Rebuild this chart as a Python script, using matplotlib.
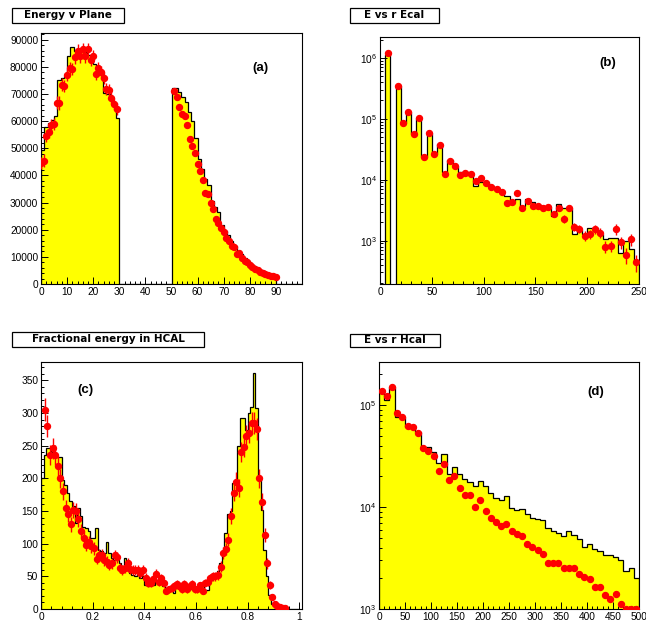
import numpy as np
import matplotlib
matplotlib.use("Agg")
import matplotlib.pyplot as plt
from matplotlib.patches import Rectangle
from matplotlib.ticker import MultipleLocator, LogLocator, NullFormatter, FuncFormatter

plt.rcParams["font.family"] = ["Liberation Sans", "DejaVu Sans"]

# (a) Energy v Plane  -- histogram in bins of 1.25, points per plane
a_edges = np.linspace(0, 100, 81)
a_hist = [49500, 58000, 59500, 60500, 62000, 75000, 76000, 76500, 84000, 87500,
          86000, 85500, 86000, 85500, 84500, 84000, 81000, 80500, 78500, 70500,
          70000, 68000, 66000, 61000,
          0, 0, 0, 0, 0, 0, 0, 0, 0, 0, 0, 0, 0, 0, 0, 0,
          72100, 72100, 70700, 68900, 67000, 63300, 60200, 53700, 46000, 42300,
          38600, 36400, 30600, 28500, 26400, 21700, 19500, 17900, 15800, 14000,
          12100, 10900, 9500, 8400, 7300, 6500, 5700, 5000, 4300, 3800, 3300, 2800,
          0, 0, 0, 0, 0, 0, 0, 0]
a_planes = list(range(0, 30)) + list(range(51, 91))
a_points = [44500, 45500, 54500, 56000, 58500, 59000, 66800, 66700, 73500, 73000,
            77000, 79500, 79300, 83500, 86000, 84000, 86500, 84000, 86500, 82500,
            84000, 77500, 79500, 78000, 76000, 71800, 71500, 68500, 66500, 64500,
            71000, 69000, 65200, 62800, 62000, 58500, 53500, 50800, 48300, 44300,
            41500, 38200, 33600, 33000, 29800, 27800, 24000, 22300, 20700, 19200,
            17000, 16000, 14000, 13700, 11200, 11500, 9500, 8600, 8000, 6900,
            6300, 5400, 5100, 4400, 4100, 3700, 3400, 3100, 2800, 2400]
a_errors = [2300, 2300, 2200, 2200, 2200, 2200, 2400, 2400, 2300, 2300,
            2300, 2300, 2300, 2400, 2400, 2400, 2400, 2400, 2400, 2300,
            2300, 2300, 2300, 2300, 2200, 2200, 2200, 2200, 2200, 2100,
            900, 900, 850, 850, 850, 800, 800, 750, 750, 700,
            700, 650, 650, 600, 600, 550, 550, 500, 500, 450,
            450, 450, 400, 400, 400, 350, 350, 350, 300, 300,
            300, 300, 250, 250, 250, 250, 200, 200, 200, 200]

# (b) E vs r Ecal
b_edges = np.arange(0, 251, 5)
b_hist = [0, 1.13e6, 0, 3.4e5, 8.5e4, 1.3e5, 5.7e4, 1.03e5, 2.4e4, 5.9e4,
          2.6e4, 3.8e4, 1.35e4, 2.1e4, 1.7e4, 1.35e4, 1.35e4, 1.25e4, 8.0e3, 9.3e3,
          9.0e3, 7.8e3, 7.2e3, 6.2e3, 5.3e3, 4.5e3, 4.8e3, 3.7e3, 4.9e3, 4.3e3,
          3.9e3, 3.7e3, 3.5e3, 2.5e3, 4.0e3, 3.4e3, 3.4e3, 1.3e3, 1.5e3, 1.3e3,
          1.6e3, 1.6e3, 1.3e3, 1.05e3, 1.1e3, 1.1e3, 620, 1.0e3, 720, 450]
b_points = [0, 1.2e6, 0, 3.5e5, 8.5e4, 1.3e5, 5.7e4, 1.03e5, 2.35e4, 5.8e4,
            2.6e4, 3.7e4, 1.25e4, 2.05e4, 1.67e4, 1.2e4, 1.3e4, 1.23e4, 9.5e3, 1.05e4,
            8.8e3, 7.7e3, 7.1e3, 6.2e3, 4.1e3, 4.3e3, 6.0e3, 3.4e3, 4.5e3, 3.7e3,
            3.7e3, 3.4e3, 3.5e3, 2.75e3, 3.4e3, 2.3e3, 3.4e3, 1.7e3, 1.55e3, 1.2e3,
            1.28e3, 1.55e3, 1.35e3, 800, 820, 1.55e3, 950, 580, 1.05e3, 440]
b_relerr = [0, .03, 0, .03, .03, .03, .03, .03, .04, .03,
            .04, .04, .05, .05, .05, .05, .05, .05, .06, .06,
            .06, .06, .07, .07, .08, .08, .08, .09, .08, .09,
            .09, .09, .09, .10, .10, .15, .10, .15, .15, .18,
            .18, .18, .18, .22, .22, .20, .22, .30, .22, .30]

# (c) Fractional energy in HCAL
c_edges = np.linspace(0, 1, 101)
c_hist = [200, 236, 246, 246, 241, 233, 233, 233, 198, 190,
          177, 165, 157, 131, 154, 142, 126, 124, 119, 108,
          108, 124, 91, 88, 86, 103, 86, 78, 75, 75,
          70, 65, 78, 60, 55, 52, 50, 63, 48, 50,
          37, 35, 40, 37, 45, 40, 45, 35, 27, 30,
          35, 24, 35, 32, 30, 32, 35, 30, 31, 29,
          32, 29, 35, 27, 29, 45, 50, 52, 58, 70,
          86, 116, 145, 150, 193, 193, 250, 293, 293, 274,
          300, 309, 361, 307, 200, 152, 91, 50, 22, 7,
          3, 1, 0, 0, 0, 0, 0, 0, 0, 0]
c_points = [0, 305, 280, 236, 246, 236, 219, 200, 180, 154,
            145, 130, 152, 150, 138, 119, 109, 98, 102, 96,
            93, 77, 83, 83, 75, 72, 68, 70, 82, 79,
            63, 60, 63, 70, 61, 60, 59, 59, 55, 59,
            48, 40, 40, 46, 54, 42, 47, 40, 28, 30,
            32, 35, 38, 35, 30, 38, 30, 35, 38, 30,
            30, 36, 28, 40, 42, 47, 50, 50, 52, 65,
            85, 92, 106, 142, 178, 195, 185, 240, 248, 265,
            270, 285, 285, 276, 200, 164, 113, 70, 37, 19,
            8, 5, 3, 2, 1, 0, 0, 0, 0, 0]

# (d) E vs r Hcal
d_edges = np.arange(0, 501, 10)
d_hist = [1.35e5, 1.12e5, 1.5e5, 7.7e4, 7.7e4, 6.1e4, 6.1e4, 5.5e4, 3.85e4, 3.85e4,
          3.5e4, 2.7e4, 3.35e4, 2.1e4, 2.5e4, 2.1e4, 1.9e4, 1.77e4, 1.6e4, 1.8e4,
          1.6e4, 1.37e4, 1.23e4, 1.18e4, 1.28e4, 9.7e3, 9.3e3, 9.5e3, 8.6e3, 7.9e3,
          7.7e3, 7.5e3, 6.3e3, 5.8e3, 5.6e3, 5.2e3, 5.8e3, 5.3e3, 4.9e3, 4.1e3,
          4.3e3, 3.9e3, 3.7e3, 3.4e3, 3.35e3, 3.25e3, 3.05e3, 2.35e3, 2.5e3, 2.0e3]
d_points = [1.38e5, 1.22e5, 1.49e5, 8.3e4, 7.7e4, 6.2e4, 6.05e4, 5.3e4, 3.77e4, 3.55e4,
            3.17e4, 2.28e4, 2.65e4, 1.85e4, 2.02e4, 1.55e4, 1.3e4, 1.3e4, 1.0e4, 1.18e4,
            9.2e3, 7.8e3, 7.2e3, 6.5e3, 6.8e3, 5.8e3, 5.4e3, 5.2e3, 4.3e3, 4.1e3,
            3.75e3, 3.5e3, 2.8e3, 2.85e3, 2.8e3, 2.55e3, 2.55e3, 2.55e3, 2.2e3, 2.05e3,
            1.98e3, 1.65e3, 1.63e3, 1.38e3, 1.25e3, 1.4e3, 1.12e3, 1.0e3, 1.0e3, 0.99e3]
d_relerr = [.01, .01, .01, .01, .01, .01, .01, .01, .015, .015,
            .015, .015, .015, .02, .02, .02, .02, .02, .02, .02,
            .02, .025, .025, .025, .025, .03, .03, .03, .03, .03,
            .035, .035, .04, .04, .04, .04, .04, .04, .045, .045,
            .05, .05, .05, .06, .06, .06, .07, .07, .07, .08]

titles = ["Energy v Plane", "E vs r Ecal", "Fractional energy in HCAL", "E vs r Hcal"]
tags = ["(a)", "(b)", "(c)", "(d)"]

W, H = 646, 624
fig = plt.figure(figsize=(W / 100, H / 100), dpi=100)
fig.patch.set_facecolor("white")


def px_axes(left, top, right, bottom):
    return fig.add_axes([left / W, 1 - bottom / H, (right - left) / W, (bottom - top) / H])


def title_box(text, left, top, right, bottom):
    fig.add_artist(Rectangle((left / W, 1 - bottom / H), (right - left) / W, (bottom - top) / H,
                             transform=fig.transFigure, facecolor="white",
                             edgecolor="black", lw=0.9))
    fig.text((left + right) / 2 / W, 1 - (top + bottom) / 2 / H, text,
             ha="center", va="center", fontsize=7.5, fontweight="bold",
             family=["DejaVu Sans"])


def style(ax):
    for s in ax.spines.values():
        s.set_linewidth(0.8)
    ax.tick_params(which="both", direction="in", top=False, right=False,
                   width=0.7, labelsize=7.3, pad=2)
    ax.tick_params(which="major", length=5)
    ax.tick_params(which="minor", length=2.5)


def draw_hist(ax, edges, counts, base):
    vals = np.where(np.asarray(counts) > 0, counts, base)
    ax.stairs(vals, edges, baseline=base, fill=True, color="#ffff00", lw=0)
    ax.stairs(vals, edges, baseline=base, color="black", lw=0.9)


def draw_points(ax, x, y, err):
    ax.errorbar(x, y, yerr=err, fmt="o", color="red", ms=4.3, mec="red",
                elinewidth=1.0, capsize=0, zorder=3)


def tag(ax, text, fx, fy):
    ax.text(fx, fy, text, transform=ax.transAxes, ha="center", va="center",
            fontsize=9.5, fontweight="bold")


plain = FuncFormatter(lambda v, p: "%g" % v)

# panel (a)
ax = px_axes(41, 33, 302, 284)
draw_hist(ax, a_edges, a_hist, 0)
draw_points(ax, a_planes, a_points, a_errors)
ax.set_xlim(0, 100)
ax.set_ylim(0, 92500)
ax.set_xticks(np.arange(0, 91, 10))
ax.set_yticks(np.arange(0, 90001, 10000))
ax.xaxis.set_minor_locator(MultipleLocator(2))
ax.yaxis.set_minor_locator(MultipleLocator(2000))
ax.xaxis.set_major_formatter(plain)
ax.yaxis.set_major_formatter(plain)
style(ax)
tag(ax, tags[0], 0.84, 0.86)
title_box(titles[0], 12, 8, 124, 23)

# panel (b)
ax = px_axes(380, 37, 639, 284)
ax.set_yscale("log")
draw_hist(ax, b_edges, b_hist, 1.0)
bc = 0.5 * (b_edges[1:] + b_edges[:-1])
bp = np.asarray(b_points)
sel = bp > 0
draw_points(ax, bc[sel], bp[sel], bp[sel] * np.asarray(b_relerr)[sel])
ax.set_xlim(0, 250)
ax.set_ylim(194, 2.2e6)
ax.set_xticks(np.arange(0, 251, 50))
ax.xaxis.set_minor_locator(MultipleLocator(10))
ax.xaxis.set_major_formatter(plain)
ax.yaxis.set_major_locator(LogLocator(base=10, numticks=10))
ax.yaxis.set_minor_locator(LogLocator(base=10, subs=np.arange(2, 10), numticks=20))
ax.yaxis.set_minor_formatter(NullFormatter())
style(ax)
tag(ax, tags[1], 0.88, 0.895)
title_box(titles[1], 350, 8, 439, 23)

# panel (c)
ax = px_axes(41, 362, 302, 609)
draw_hist(ax, c_edges, c_hist, 0)
cc = 0.5 * (c_edges[1:] + c_edges[:-1])
cp = np.asarray(c_points, dtype=float)
sel = cp > 0
draw_points(ax, cc[sel], cp[sel], np.sqrt(cp[sel]))
ax.set_xlim(0, 1.01)
ax.set_ylim(0, 378)
ax.set_xticks(np.arange(0, 1.01, 0.2))
ax.set_yticks(np.arange(0, 351, 50))
ax.xaxis.set_minor_locator(MultipleLocator(0.04))
ax.yaxis.set_minor_locator(MultipleLocator(10))
ax.xaxis.set_major_formatter(plain)
style(ax)
tag(ax, tags[2], 0.17, 0.887)
title_box(titles[2], 12, 332, 204, 347)

# panel (d)
ax = px_axes(379, 362, 639, 609)
ax.set_yscale("log")
draw_hist(ax, d_edges, d_hist, 1.0)
dc = 0.5 * (d_edges[1:] + d_edges[:-1])
dp = np.asarray(d_points)
draw_points(ax, dc, dp, dp * np.asarray(d_relerr))
ax.set_xlim(0, 500)
ax.set_ylim(1000, 2.65e5)
ax.set_xticks(np.arange(0, 501, 50))
ax.xaxis.set_minor_locator(MultipleLocator(10))
ax.xaxis.set_major_formatter(plain)
ax.yaxis.set_major_locator(LogLocator(base=10, numticks=10))
ax.yaxis.set_minor_locator(LogLocator(base=10, subs=np.arange(2, 10), numticks=20))
ax.yaxis.set_minor_formatter(NullFormatter())
style(ax)
tag(ax, tags[3], 0.835, 0.88)
title_box(titles[3], 350, 334, 440, 347)

fig.savefig("out.png", dpi=100)
